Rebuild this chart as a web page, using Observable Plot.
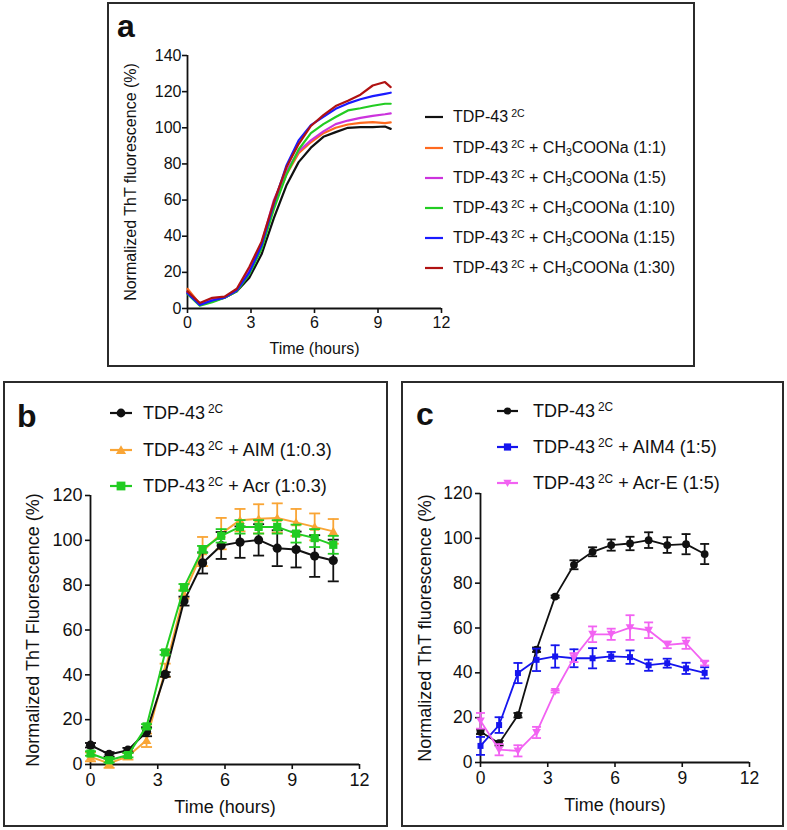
<!DOCTYPE html>
<html><head><meta charset="utf-8">
<script src="https://cdn.jsdelivr.net/npm/d3@7"></script>
<script src="https://cdn.jsdelivr.net/npm/@observablehq/plot@0.6"></script>
<style>
body{margin:0;background:#fff;font-family:"Liberation Sans",Arial,sans-serif;color:#111;}
#root{position:relative;width:787px;height:830px;overflow:hidden;background:#fff;}
.box{position:absolute;border:2px solid #2b2b2b;box-sizing:border-box;}
.plot{position:absolute;}
.letter{position:absolute;font-weight:bold;font-size:32px;line-height:32px;}
.leg{position:absolute;white-space:nowrap;}
.row{position:absolute;left:0;display:flex;align-items:center;}
.row svg{display:block;flex:none;}
sup{font-size:0.66em;vertical-align:0.5em;line-height:0;margin-left:3px;}
sub{font-size:0.66em;vertical-align:-0.25em;line-height:0;}
</style></head>
<body><div id="root"></div>
<script>
// ---------- Panel a data ----------
const timeA = [0,0.58,1.17,1.75,2.33,2.92,3.5,4.08,4.67,5.25,5.83,6.42,7.0,7.58,8.17,8.75,9.33,9.6];
const a_tdp   = [9,2.2,4,6,9.5,17,30,50,68,81,89,95,97.6,100,100.4,100.4,100.7,99.4];
const a_r1_1  = [10.9,2.5,5,6,10,21,35,57,74,86,92,97,100,101.8,102.7,103.1,102.6,103];
const a_r1_5  = [9,2.5,5,6,10,21,36,60,76,87,93,98,102,104,105.5,106.6,107.5,108];
const a_r1_10 = [8,1.5,3.5,6,9.5,19,33,55,74,88,97,102,106,109.6,110.8,112.2,113.3,113.3];
const a_r1_15 = [8.5,2,4.4,6,10,20,35,58,79,93,101.5,106,110.5,113.5,115.8,117.5,118.8,119.4];
const a_r1_30 = [9.5,3,5.9,6.6,10.9,23,37,59,78,91,101,107,112,115,118.3,123.4,125.3,122.5];
const a_names = ["TDP-43|2C|", "TDP-43|2C| + CH|3|COONa (1:1)", "TDP-43|2C| + CH|3|COONa (1:5)", "TDP-43|2C| + CH|3|COONa (1:10)", "TDP-43|2C| + CH|3|COONa (1:15)", "TDP-43|2C| + CH|3|COONa (1:30)"];
const a_colors = ["#111111","#ff6a1f","#cc33dd","#22cc22","#1a1aff","#b01212"];
const a_series = [a_tdp,a_r1_1,a_r1_5,a_r1_10,a_r1_15,a_r1_30];
const a_yticks = [0,20,40,60,80,100,120,140];

// ---------- Panel b data ----------
const timeB = [0,0.83,1.67,2.5,3.33,4.17,5,5.83,6.67,7.5,8.33,9.17,10,10.83];
const b_tdp = [8.6,4.5,6.4,14.6,40.2,72.9,89.9,97.7,99.2,100.2,96.5,95.9,93,91];
const b_tdp_err = [1,1,1,2,1,2,4.7,6,7,7,8,8,9.3,9.3];
const b_aim = [3.4,0.5,3.7,10.8,42,76,95,103,109,109.6,110,108,106,104];
const b_aim_err = [2,2,1.5,3,3,2,6.5,7,5,6.5,6.5,6,6,5.5];
const b_acr = [4.9,1.9,4.2,17,50,79,96,102,106,106,106,103,101,98];
const b_acr_err = [1,1,1,1,1,1.5,1.5,3,3,3,3,4,4,4];
const b_names = ["TDP-43|2C|", "TDP-43|2C| + AIM (1:0.3)", "TDP-43|2C| + Acr (1:0.3)"];
const b_colors = ["#111111","#f9a535","#22cc22"];
const b_yticks = [0,20,40,60,80,100,120];

// ---------- Panel c data ----------
const timeC = [0,0.83,1.67,2.5,3.33,4.17,5,5.83,6.67,7.5,8.33,9.17,10];
const c_tdp = [13.7,8.6,21.1,50.3,74,88.2,94,97,97.7,99.2,97,97.4,93];
const c_tdp_err = [1,1,1,1,0.5,2,2,2.5,3,3.5,3.5,4.5,4.5];
const c_aim4 = [7.4,16.7,39.9,45.8,47.3,46.5,46.5,47.3,47,43.4,44.3,42,40];
const c_aim4_err = [4,3.5,4.5,5,5,4,4.5,2,3,2.5,2,2.5,2.5];
const c_acre = [18.6,5.7,5.2,13.4,31.7,46.8,57.2,57.2,60.2,59,52.5,53.2,44.3];
const c_acre_err = [3.5,2.5,2.5,2.5,0.5,2,3.5,2.5,5.5,3.5,1.5,2.5,1];
const c_names = ["TDP-43|2C|", "TDP-43|2C| + AIM4 (1:5)", "TDP-43|2C| + Acr-E (1:5)"];
const c_colors = ["#111111","#1515ee","#f262f2"];
const c_yticks = [0,20,40,60,80,100,120];

const xticks = [0,3,6,9,12];

// ---------- helpers ----------
const root = document.getElementById("root");
function el(tag, cls, css, html){const e=document.createElement(tag); if(cls) e.className=cls; Object.assign(e.style, css||{}); if(html!=null) e.innerHTML=html; root.appendChild(e); return e;}
function rich(s){ // "TDP-43|2C| + CH|3|COONa" -> sup / sub
  const parts = s.split("|");
  let out = parts[0];
  if (parts.length>1) out += "<sup>"+parts[1]+"</sup>"+parts[2];
  if (parts.length>3) out += "<sub>"+parts[3]+"</sub>"+parts[4];
  return out;
}
const capSym = {draw(ctx,size){const r=Math.sqrt(size/Math.PI); ctx.moveTo(-r,0); ctx.lineTo(r,0);}};
const triUp = {draw(ctx,size){const r=Math.sqrt(size/Math.PI); ctx.moveTo(0,-1.1*r); ctx.lineTo(1.15*r,0.9*r); ctx.lineTo(-1.15*r,0.9*r); ctx.closePath();}};
const triDown = {draw(ctx,size){const r=Math.sqrt(size/Math.PI); ctx.moveTo(0,1.1*r); ctx.lineTo(1.15*r,-0.9*r); ctx.lineTo(-1.15*r,-0.9*r); ctx.closePath();}};
const squareSym = {draw(ctx,size){const r=Math.sqrt(size/Math.PI); ctx.rect(-r,-r,2*r,2*r);}};

function frame(opts, extra){
  const {width,height,ml,mr,mt,mb,ydomain,yticks,fs,ylab,ylabDx,xlabDy,lfs,tickPadY,tickPadX} = opts;
  return Plot.plot({
    width, height, marginLeft:ml, marginRight:mr, marginTop:mt, marginBottom:mb,
    style:{fontFamily:"Liberation Sans, Arial, sans-serif", fontSize:fs+"px", color:"#111", background:"transparent", overflow:"visible"},
    x:{domain:[0,12]},
    y:{domain:ydomain},
    marks:[
      Plot.axisX({ticks:xticks, tickSize:5, tickPadding:tickPadX, label:null, strokeWidth:1.6}),
      Plot.axisY({ticks:yticks, tickSize:5, tickPadding:tickPadY, label:null, strokeWidth:1.6}),
      Plot.ruleX([0], {stroke:"#111", strokeWidth:1.8}),
      Plot.ruleY([0], {stroke:"#111", strokeWidth:1.8}),
      Plot.text([ylab], {frameAnchor:"left", rotate:-90, textAnchor:"middle", lineAnchor:"middle", dx:ylabDx, fontSize:lfs}),
      Plot.text(["Time (hours)"], {frameAnchor:"bottom", textAnchor:"middle", lineAnchor:"middle", dy:xlabDy, fontSize:lfs}),
      ...extra
    ]
  });
}
function place(svg, left, top){const d=el("div","plot",{left:left+"px",top:top+"px"}); d.appendChild(svg);}

function errMarks(rows, color, symbol, r, capR, sw){
  return [
    Plot.line(rows, {x:"t", y:"v", stroke:color, strokeWidth:sw}),
    Plot.ruleX(rows, {x:"t", y1:"lo", y2:"hi", stroke:color, strokeWidth:1.8}),
    Plot.dot(rows, {x:"t", y:"hi", symbol:capSym, r:capR, stroke:color, fill:"none", strokeWidth:1.8}),
    Plot.dot(rows, {x:"t", y:"lo", symbol:capSym, r:capR, stroke:color, fill:"none", strokeWidth:1.8}),
    Plot.dot(rows, {x:"t", y:"v", symbol, r, fill:color, stroke:"none"})
  ];
}
function rowsOf(ts, vs, es){return ts.map((t,i)=>({t, v:vs[i], lo:vs[i]-es[i], hi:vs[i]+es[i]}));}

// ---------- boxes & letters ----------
el("div","box",{left:"107px",top:"2px",width:"588px",height:"365px"});
el("div","box",{left:"3px",top:"381px",width:"385px",height:"446px"});
el("div","box",{left:"401px",top:"381px",width:"383px",height:"446px"});
el("div","letter",{left:"117px",top:"10px"},"a");
el("div","letter",{left:"17px",top:"400px"},"b");
el("div","letter",{left:"416px",top:"398px"},"c");

// ---------- Panel a ----------
const aRows = [];
a_series.forEach((s,k)=> timeA.forEach((t,i)=> aRows.push({t, v:s[i], k})));
const svgA = frame({width:350,height:326,ml:77,mr:19,mt:15,mb:58,ydomain:[0,140],yticks:a_yticks,fs:16,
  ylab:"Normalized ThT fluorescence (%)", ylabDx:-57, xlabDy:40, lfs:16, tickPadY:1, tickPadX:3},
  a_series.map((s,k)=> Plot.line(aRows.filter(d=>d.k===k), {x:"t", y:"v", stroke:a_colors[k], strokeWidth:2.2})));
place(svgA, 110, 40);

// ---------- Panel b ----------
const svgB = frame({width:385,height:350,ml:90,mr:26,mt:25,mb:56,ydomain:[0,120],yticks:b_yticks,fs:18,
  ylab:"Normalized ThT Fluorescence (%)", ylabDx:-57, xlabDy:43, lfs:18, tickPadY:3, tickPadX:4},
  [
    ...errMarks(rowsOf(timeB,b_aim,b_aim_err), b_colors[1], triUp, 4.2, 5.5, 2),
    ...errMarks(rowsOf(timeB,b_tdp,b_tdp_err), b_colors[0], "circle", 4.6, 5.5, 2),
    ...errMarks(rowsOf(timeB,b_acr,b_acr_err), b_colors[2], squareSym, 4.1, 5.5, 2)
  ]);
place(svgB, 0, 470);

// ---------- Panel c ----------
const svgC = frame({width:378,height:350,ml:80,mr:29,mt:23,mb:58,ydomain:[0,120],yticks:c_yticks,fs:17.5,
  ylab:"Normalized ThT fluorescence (%)", ylabDx:-55, xlabDy:43, lfs:18, tickPadY:3, tickPadX:4},
  [
    ...errMarks(rowsOf(timeC,c_tdp,c_tdp_err), c_colors[0], "circle", 3.9, 4.5, 1.8),
    ...errMarks(rowsOf(timeC,c_aim4,c_aim4_err), c_colors[1], squareSym, 3.0, 4.5, 1.8),
    ...errMarks(rowsOf(timeC,c_acre,c_acre_err), c_colors[2], triDown, 3.8, 4.5, 1.8)
  ]);
place(svgC, 400, 470);

// ---------- Legends ----------
function swatch(w, color, marker, mr){
  let m = "";
  const c = w/2, y = 8;
  if (marker==="circle") m = `<circle cx="${c}" cy="${y}" r="${mr}" fill="${color}"/>`;
  else if (marker==="square") m = `<rect x="${c-mr}" y="${y-mr}" width="${2*mr}" height="${2*mr}" fill="${color}"/>`;
  else if (marker==="up") m = `<path d="M${c},${y-1.1*mr}L${c+1.15*mr},${y+0.9*mr}L${c-1.15*mr},${y+0.9*mr}Z" fill="${color}"/>`;
  else if (marker==="down") m = `<path d="M${c},${y+1.1*mr}L${c+1.15*mr},${y-0.9*mr}L${c-1.15*mr},${y-0.9*mr}Z" fill="${color}"/>`;
  return `<svg width="${w}" height="16"><line x1="0" x2="${w}" y1="${y}" y2="${y}" stroke="${color}" stroke-width="2.2"/>${m}</svg>`;
}
function legend(left, ys, names, colors, markers, w, gap, fs, mr){
  const L = el("div","leg",{left:left+"px",top:"0px",fontSize:fs+"px"});
  names.forEach((n,i)=>{
    const r=document.createElement("div"); r.className="row";
    r.style.top=(ys[i]-12)+"px"; r.style.height="24px";
    r.innerHTML = swatch(w, colors[i], markers ? markers[i] : null, mr) + `<span style="margin-left:${gap}px">${rich(n)}</span>`;
    L.appendChild(r);
  });
}
legend(425, [117,148,178,208,238,268], a_names, a_colors, null, 18, 10, 16, 0);
legend(110, [413,450,486], b_names, b_colors, ["circle","up","square"], 22, 11, 18, 4.4);
legend(497, [411,447,483], c_names, c_colors, ["circle","square","down"], 21, 15, 18, 3.6);
</script>
</body></html>
